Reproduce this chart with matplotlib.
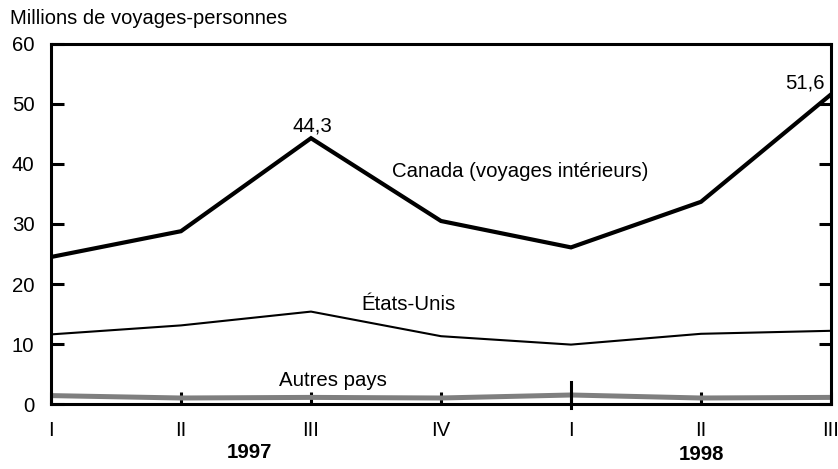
import matplotlib
matplotlib.use("Agg")
import matplotlib.pyplot as plt
import matplotlib.transforms as mtransforms

plt.rcParams['font.family'] = ['Liberation Sans', 'DejaVu Sans']

quarters = ["I", "II", "III", "IV", "I", "II", "III"]
canada = [24.5, 28.8, 44.3, 30.5, 26.1, 33.7, 51.6]
etats_unis = [11.6, 13.1, 15.4, 11.3, 9.9, 11.7, 12.2]
autres = [1.4, 1.0, 1.1, 1.0, 1.5, 1.0, 1.1]
years = ["1997", "1998"]

fig = plt.figure(figsize=(8.38, 4.69), dpi=100)
ax = fig.add_axes([51 / 838, 1 - 404 / 469, 780 / 838, 360 / 469])

x = list(range(len(quarters)))
ax.plot(x, autres, color="#7f7f7f", lw=3.6, solid_joinstyle="round", zorder=2)
ax.plot(x, etats_unis, color="black", lw=1.5, zorder=3)
ax.plot(x, canada, color="black", lw=3.0, solid_joinstyle="miter", zorder=4)

ax.set_xlim(0, 6)
ax.set_ylim(0, 60)
ax.set_yticks(range(0, 61, 10))
ax.set_xticks(x)
ax.set_xticklabels(quarters)

fs = 14.7
for s in ax.spines.values():
    s.set_linewidth(2.2)

ax.tick_params(axis="y", direction="in", length=9, width=2.2, pad=12,
               labelsize=fs, right=True)
ax.tick_params(axis="x", direction="in", length=9, width=2.2, pad=12,
               labelsize=fs)
# longer tick marking the year change
ax.axvline(4, ymin=-0.012, ymax=0.06, color="black", lw=2.2, clip_on=False)

ax.annotate("44,3", (2, canada[2]), xytext=(1, 5), textcoords="offset points",
            ha="center", va="baseline", fontsize=fs)
ax.annotate("51,6", (6, canada[6]), xytext=(-4.5, 4.5), textcoords="offset points",
            ha="right", va="baseline", fontsize=fs)
ax.text(3.61, 38.7, "Canada (voyages intérieurs)", ha="center", va="center", fontsize=fs)
ax.text(2.75, 16.5, "États-Unis", ha="center", va="center", fontsize=fs)
ax.text(2.17, 4.0, "Autres pays", ha="center", va="center", fontsize=fs)

trans = mtransforms.blended_transform_factory(ax.transData, ax.transAxes)
ax.text(1.53, -0.135, years[0], transform=trans, ha="center", va="center",
        fontsize=fs, fontweight="bold")
ax.text(5.0, -0.14, years[1], transform=trans, ha="center", va="center",
        fontsize=fs, fontweight="bold")

fig.text(10 / 838, 1 - 18 / 469, "Millions de voyages-personnes", ha="left",
         va="center", fontsize=14.5)

fig.savefig("out.png", dpi=100)
